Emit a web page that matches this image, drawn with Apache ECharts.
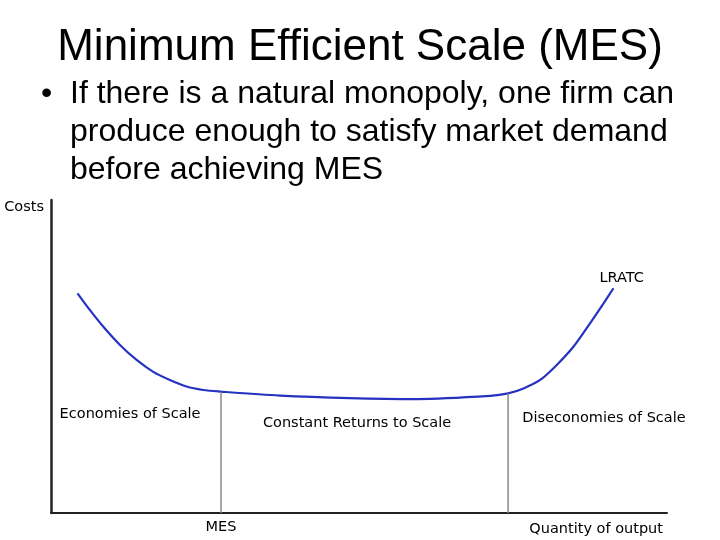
<!DOCTYPE html>
<html lang="en">
<head>
    <meta charset="utf-8">
    <title>Minimum Efficient Scale</title>
    <script src="https://cdn.jsdelivr.net/npm/echarts@6.0.0/dist/echarts.min.js"></script>
</head>
<body style="margin:0">
    <div id="chart" style="width:720px; height:540px;"></div>

<script type="text/javascript">
// LRATC curve (both axes run 0..100)
var curveX = [4.3, 6.3, 8.5, 11.2, 13.9, 16.6, 19.3, 22.0, 24.7, 27.4, 37.2, 48.5, 59.4, 71.3, 74.2, 76.7, 79.4, 82.1, 84.8, 87.5, 89.7, 91.3];
var curveY = [70.2, 64.9, 59.5, 53.7, 48.9, 45.1, 42.5, 40.4, 39.3, 38.8, 37.5, 36.7, 36.4, 37.4, 38.2, 39.8, 42.5, 47.3, 53.1, 60.6, 67.0, 71.8];

var mesX = 27.6;
var mesY = 38.7;
var diseX = 74.2;
var diseY = 38.2;

var regionNames = ['Economies of Scale', 'Constant Returns to Scale', 'Diseconomies of Scale'];
var regionX = [1.4, 34.4, 76.5];
var regionY = [31.4, 28.8, 30.4];

var bulletLines = [
    'If there is a natural monopoly, one firm can',
    'produce enough to satisfy market demand',
    'before achieving MES'
];

var myChart = echarts.init(document.getElementById('chart'));

var curveData = curveX.map(function (x, i) { return [x, curveY[i]]; });
var regionData = regionNames.map(function (n, i) { return { name: n, value: [regionX[i], regionY[i]] }; });

var smallFont = 'DejaVu Sans';
var lineStyleV = { color: '#8a8a8a', width: 1.5 };

var graphics = [{
    type: 'text', left: 'center', top: 26,
    style: { text: 'Minimum Efficient Scale (MES)', font: '44px "Liberation Sans", Arial', fill: '#000' }
}, {
    type: 'text', left: 41, top: 78,
    style: { text: '•', font: '32px "Liberation Sans", Arial', fill: '#000' }
}];
bulletLines.forEach(function (t, i) {
    graphics.push({
        type: 'text', left: 70, top: 78 + i * 38,
        style: { text: t, font: '32px "Liberation Sans", Arial', fill: '#000' }
    });
});

myChart.setOption({
    animation: false,
    graphic: graphics,
    grid: { left: 51, right: 53, top: 200, bottom: 27 },
    xAxis: {
        type: 'value', min: 0, max: 100,
        name: 'Quantity of output', nameLocation: 'end', nameGap: -4,
        nameTextStyle: { align: 'right', verticalAlign: 'top', padding: [9, 0, 0, 0], color: '#000', fontSize: 14.5, fontFamily: smallFont },
        axisLine: { lineStyle: { color: '#222', width: 2 } },
        axisTick: { show: false },
        splitLine: { show: false },
        axisLabel: { customValues: [mesX], formatter: function () { return 'MES'; }, color: '#000', fontSize: 14.5, margin: 7, fontFamily: smallFont }
    },
    yAxis: {
        type: 'value', min: 0, max: 100,
        name: 'Costs', nameLocation: 'end', nameGap: 0,
        nameTextStyle: { align: 'right', verticalAlign: 'top', padding: [0, 7, 0, 0], color: '#000', fontSize: 14.5, fontFamily: smallFont },
        axisLine: { show: true, lineStyle: { color: '#222', width: 2.5 } },
        axisTick: { show: false },
        splitLine: { show: false },
        axisLabel: { show: false }
    },
    series: [{
        name: 'LRATC',
        type: 'line',
        data: curveData,
        smooth: 0.3,
        symbol: 'none',
        lineStyle: { color: '#2632c0', width: 2.2 },
        endLabel: { show: true, formatter: 'LRATC', color: '#000', fontSize: 14.5, offset: [-22, -10], fontFamily: smallFont }
    }, {
        type: 'line', symbol: 'none', lineStyle: lineStyleV,
        data: [[mesX, 0], [mesX, mesY]]
    }, {
        type: 'line', symbol: 'none', lineStyle: lineStyleV,
        data: [[diseX, 0], [diseX, diseY]]
    }, {
        type: 'scatter', symbolSize: 0, data: regionData,
        itemStyle: { opacity: 1 },
        label: { show: true, position: 'right', distance: 0, formatter: '{b}', color: '#000', fontSize: 14.5, fontFamily: smallFont }
    }]
});
</script>
</body>
</html>
